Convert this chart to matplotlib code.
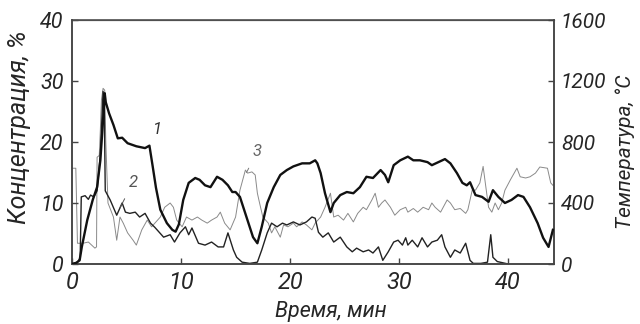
import matplotlib
matplotlib.use("Agg")
import matplotlib.pyplot as plt

# time (min) and values
t1 = [0, 0.4, 0.7, 0.9, 1.4, 1.9, 2.3, 2.6, 2.85, 3.0, 3.1, 3.4, 3.8, 4.2, 4.6, 5.1, 5.9, 6.7, 7.1,
      7.4, 7.7, 8.1, 8.7, 9.2, 9.5, 9.8, 10.2, 10.7, 11.3, 11.7, 12.2, 12.7, 13.3, 13.8, 14.3, 14.7,
      15.0, 15.4, 16.0, 16.6, 17.0, 17.4, 17.9, 18.5, 19.1, 19.7, 20.3, 21.1, 21.8, 22.3, 22.5, 22.8,
      23.2, 23.7, 24.0, 24.6, 25.2, 25.8, 26.4, 27.0, 27.6, 28.3, 28.7, 29.0, 29.5, 30.1, 30.8, 31.3,
      31.9, 32.6, 33.0, 33.6, 34.2, 34.7, 35.3, 35.8, 36.2, 36.5, 37.0, 37.6, 38.2, 38.6, 39.1, 39.7,
      40.3, 40.9, 41.4, 42.0, 42.7, 43.2, 43.7, 44.1]
temp1 = [0, 8, 24, 112, 288, 420, 504, 680, 944, 1120, 1060, 988, 912, 824, 828, 792, 772, 760, 776,
         640, 500, 356, 268, 224, 212, 260, 420, 532, 564, 552, 516, 504, 572, 552, 516, 472,
         472, 440, 308, 176, 136, 244, 400, 504, 584, 616, 640, 660, 660, 680, 660, 596,
         464, 340, 400, 452, 472, 464, 504, 572, 564, 616, 584, 536, 648, 680, 704, 680,
         680, 668, 648, 668, 688, 660, 596, 532, 516, 536, 452, 440, 408, 484, 440, 400,
         420, 452, 440, 372, 268, 172, 112, 224]

t2 = [0, 0.5, 0.75, 0.85, 1.2, 1.5, 1.7, 2.0, 2.3, 2.6, 2.85, 2.95, 3.05, 3.5, 4.1, 4.6, 4.9, 5.3,
      5.8, 6.2, 6.7, 7.2, 7.6, 7.8, 8.4, 9.0, 9.4, 9.9, 10.4, 10.7, 11.0, 11.6, 12.2, 12.8, 13.4,
      13.9, 14.3, 14.8, 15.1, 15.6, 16.3, 17.0, 17.4, 17.9, 18.3, 18.8, 19.3, 19.7, 20.3, 20.9,
      21.5, 22.0, 22.3, 22.6, 23.0, 23.5, 24.0, 24.6, 25.2, 25.7, 26.1, 26.7, 27.2, 27.6, 28.1,
      28.5, 29.0, 29.5, 29.9, 30.3, 30.6, 30.8, 31.2, 31.7, 32.1, 32.6, 33.0, 33.5, 33.9, 34.2,
      34.7, 35.1, 35.6, 36.1, 36.5, 36.8, 37.5, 38.1, 38.4, 38.6, 39.0, 39.5, 40.0]
conc2 = [0, 0.3, 1, 11, 11.2, 10.6, 11.3, 11, 12, 18, 28.3, 27, 12, 10.5, 8.0, 10, 8.5, 8.3,
         8.5, 7.7, 8.3, 6.7, 6.0, 5.6, 4.4, 4.8, 3.6, 5.1, 6.1, 4.8, 5.9, 3.4, 3.1, 3.6, 2.8,
         2.8, 5.1, 2.3, 1.1, 0.3, 0.1, 0.3, 2.3, 5.1, 6.7, 6.1, 6.7, 6.4, 6.9, 6.4,
         6.9, 7.7, 7.5, 5.2, 4.4, 5.1, 3.6, 4.4, 2.8, 2.0, 2.6, 2.0, 2.3, 1.8, 2.8,
         0.6, 2.0, 3.6, 3.9, 3.1, 4.3, 3.1, 3.9, 2.8, 4.3, 2.8, 3.6, 3.9, 4.8, 2.8,
         1.1, 2.3, 1.8, 3.4, 0.6, 0.1, 0.1, 0.3, 4.8, 1.1, 0.4, 0.2, 0]

t3 = [0, 0.35, 0.5, 1.0, 1.5, 2.1, 2.25, 2.3, 2.5, 2.6, 2.7, 2.85, 3.0, 3.1, 3.3, 3.8, 4.1, 4.4,
      4.7, 5.1, 5.6, 5.9, 6.4, 6.9, 7.3, 7.6, 8.1, 8.5, 9.0, 9.3, 9.6, 10.1, 10.5, 11.0, 11.5,
      11.9, 12.4, 12.8, 13.3, 13.6, 14.0, 14.5, 15.0, 15.4, 15.9, 16.1, 16.5, 16.8, 17.0, 17.2,
      17.5, 18.0, 18.3, 18.6, 19.1, 19.4, 19.8, 20.3, 20.6, 21.1, 21.5, 22.0, 22.3, 22.8, 23.2,
      23.7, 24.0, 24.4, 24.9, 25.3, 25.8, 26.2, 26.7, 27.0, 27.5, 27.8, 28.1, 28.4, 28.7, 29.2,
      29.6, 30.1, 30.6, 30.8, 31.3, 31.7, 32.2, 32.7, 33.0, 33.3, 33.8, 34.4, 34.7, 35.1, 35.6,
      36.1, 36.3, 36.7, 37.0, 37.4, 37.7, 37.9, 38.2, 38.5, 38.8, 39.1, 39.4, 39.7, 40.2, 40.8,
      41.1, 41.6, 42.0, 42.5, 42.9, 43.6, 43.9, 44.1]
conc3 = [15.7, 15.7, 3.4, 3.4, 3.6, 2.6, 2.8, 17.5, 17.8, 22, 26.9, 28.8, 28.5, 20, 10, 7.7, 3.9, 7.7,
         6.7, 5.1, 3.9, 3.1, 5.6, 7.2, 6.1, 6.7, 7.7, 9.3, 10.0, 9.3, 7.2, 6.1, 7.7, 7.2, 7.7,
         7.2, 6.7, 7.2, 7.7, 8.5, 6.7, 5.6, 7.7, 12.1, 15.4, 14.9, 15.1, 14.6, 11.6, 10.0,
         7.7, 6.7, 5.1, 6.1, 4.4, 6.4, 6.1, 6.7, 6.1, 6.9, 6.4, 5.6, 6.7, 7.7, 9.3,
         11.6, 7.7, 8.0, 7.2, 8.3, 6.9, 8.3, 9.3, 8.9, 10.5, 11.6, 9.3, 10.0, 10.5, 9.3,
         8.0, 8.9, 9.3, 8.5, 9.1, 8.5, 9.3, 8.9, 10.0, 9.3, 8.5, 10.5, 10.0, 8.9, 9.1,
         8.3, 8.9, 12.1, 12.1, 13.3, 16.0, 13.3, 9.3, 8.5, 10.0, 8.9, 10.0, 12.1, 13.8, 15.7,
         14.3, 14.1, 14.3, 14.9, 15.9, 15.7, 13.3, 12.9]

xticks = [0, 10, 20, 30, 40]
yticks_left = [0, 10, 20, 30, 40]
yticks_right = [0, 400, 800, 1200, 1600]

plt.rcParams['font.family'] = ['Roboto', 'DejaVu Sans']
plt.rcParams['font.style'] = 'italic'

W, H = 640, 324
fig = plt.figure(figsize=(6.4, 3.24), dpi=100)
ax = fig.add_axes([72/W, 1-264/H, (554-72)/W, (264-20)/H])
ax2 = ax.twinx()

ax2.plot(t1, temp1, color='#111111', lw=1.7, zorder=3)
ax.plot(t2, conc2, color='#222222', lw=1.0, zorder=2)
ax.plot(t3, conc3, color='#8a8a8a', lw=0.7, zorder=1)

ax.set_xlim(0, 44.2)
ax.set_ylim(0, 40)
ax2.set_ylim(0, 1600)
ax.set_xticks(xticks)
ax.set_yticks(yticks_left)
ax2.set_yticks(yticks_right)

for a in (ax, ax2):
    for s in a.spines.values():
        s.set_color('#444444')
        s.set_linewidth(1.1)
ax.spines['top'].set_color('#777777')
ax.spines['top'].set_linewidth(0.9)

tc = '#262626'
ax.tick_params(axis='x', direction='in', length=4, width=1, colors='#444444', labelsize=17,
               labelcolor=tc, pad=5)
ax.tick_params(axis='y', direction='in', length=4, width=1, colors='#444444', labelsize=15.5,
               labelcolor=tc, pad=6)
ax2.tick_params(axis='y', direction='in', length=4, width=1, colors='#444444', labelsize=15,
                labelcolor=tc, pad=5)

fig.text(19/W, 1-127/H, 'Концентрация, %', fontsize=18, color=tc, rotation=90,
         ha='center', va='center')
fig.text(331/W, 1-311/H, 'Время, мин', fontsize=15.5, color=tc, ha='center', va='center')
fig.text(625/W, 1-152/H, 'Температура, °C', fontsize=15, color=tc, rotation=90,
         ha='center', va='center')

# curve labels
ax.annotate('1', xy=(7.0, 19.3), xytext=(7.8, 22), fontsize=12, color='#333333',
            ha='center', va='center',
            arrowprops=dict(arrowstyle='-', color='#333333', lw=0.7, shrinkA=5, shrinkB=0))
ax.annotate('2', xy=(4.4, 9.2), xytext=(5.6, 13.4), fontsize=12, color='#555555',
            ha='center', va='center',
            arrowprops=dict(arrowstyle='-', color='#555555', lw=0.7, shrinkA=5, shrinkB=0))
ax.annotate('3', xy=(16.0, 15.0), xytext=(17.0, 18.4), fontsize=12, color='#666666',
            ha='center', va='center',
            arrowprops=dict(arrowstyle='-', color='#777777', lw=0.7, shrinkA=5, shrinkB=0))

fig.savefig('out.png', dpi=100, facecolor='white')
